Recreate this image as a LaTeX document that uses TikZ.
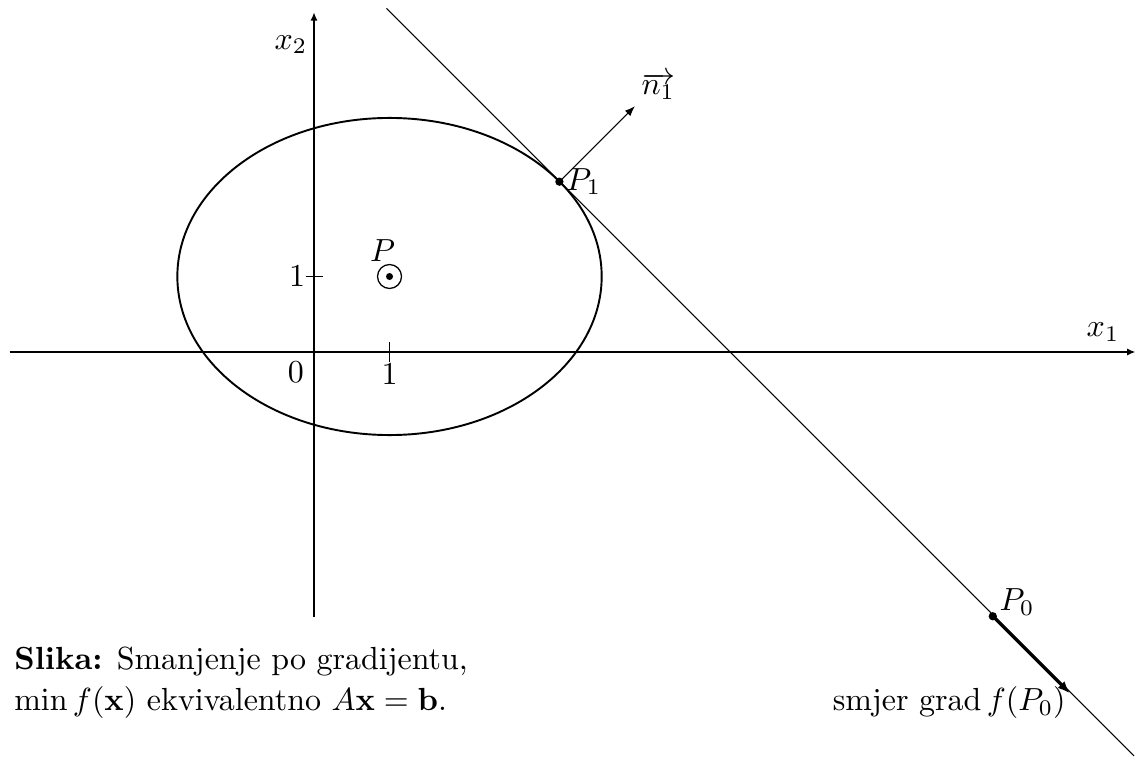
\documentclass[tikz,border=0pt]{standalone}
\usepackage{tikz}
\usetikzlibrary{arrows.meta, positioning}

\tikzset{
  axis/.style={line width=0.6pt, -{Latex[length=2.6pt,width=2.2pt]}},
  tick/.style={line width=0.6pt},
  dot/.style={circle, fill, inner sep=0pt, minimum size=2.6pt},
  lbl/.style={inner sep=1pt},
}

\begin{document}
\begin{tikzpicture}[x=0.83cm, y=0.83cm]
    	\useasboundingbox (-4.159,-5.483) rectangle (10.9,4.662);
    	% tocke
    	\coordinate (O) at (0,0);
    	\coordinate (Xs) at (-4.03,0);
    	\coordinate (Xe) at (10.88,0);
    	\coordinate (Ys) at (0,-3.51);
    	\coordinate (Ye) at (0,4.50);
    	\coordinate (P) at (1,1);
    	\coordinate (P1) at (3.25,2.256);
    	\coordinate (P0) at (8.99,-3.50);
    	\coordinate (T1) at (0.96,4.55);
    	\coordinate (T2) at (10.86,-5.35);
    	\coordinate (N) at (4.25,3.256);
    	\coordinate (G) at (10.01,-4.52);
    %	osi
    	\draw[axis] (Xs) -- (Xe);
    	\draw[axis] (Ys) -- (Ye);
    	\node[lbl] (x1) at (10.45,0.265) {$x_1$};
    	\node[lbl] (x2) at (-0.305,4.07) {$x_2$};
    	\draw[tick] (1,-0.13) -- (1,0.13);
    	\draw[tick] (-0.11,1) -- (0.12,1);
    	\node[lbl] (nula) at (-0.24,-0.27) {$0$};
    	\node[lbl] (jx) at (1,-0.29) {$1$};
    	\node[lbl] (jy) at (-0.225,1) {$1$};
    %	elipsa i pravac
    	\draw[line width=0.6pt] (P) ellipse [x radius=2.81, y radius=2.1];
    	\draw[line width=0.35pt] (T1) -- (T2);
    	\draw[line width=0.4pt] (P) circle (3.75pt);
    	\node[dot, minimum size=2.2pt] at (P) {};
    	\node[lbl] (Pl) at (0.91,1.34) {$P$};
    	\node[dot] (p1) at (P1) {};
    	\node[lbl, right=1pt of P1] (P1l) {$P_1$};
    	\node[dot] (p0) at (P0) {};
    	\node[lbl] (P0l) at (9.31,-3.31) {$P_0$};
    %	vektori
    	\draw[line width=0.35pt, -{Latex[length=3.2pt,width=2.4pt]}] (P1) -- (N);
    	\node[lbl] (n1) at (4.56,3.52) {$\overrightarrow{n_1}$};
    	\draw[line width=1pt, -{Latex[length=3.8pt,width=3pt]}] (P0) -- (G);
    	\node[lbl, anchor=base west] (smjer) at (6.82,-4.75) {smjer grad\,$f(P_0)$};
    %	natpis
    	\node[lbl, anchor=base west] (cap1) at (-4.02,-4.2) {\textbf{Slika:} Smanjenje po gradijentu,};
    	\node[lbl, anchor=base west] (cap2) at (-4.02,-4.75) {$\min f(\mathbf{x})$ ekvivalentno $A\mathbf{x}=\mathbf{b}$.};
    \end{tikzpicture}
\end{document}
